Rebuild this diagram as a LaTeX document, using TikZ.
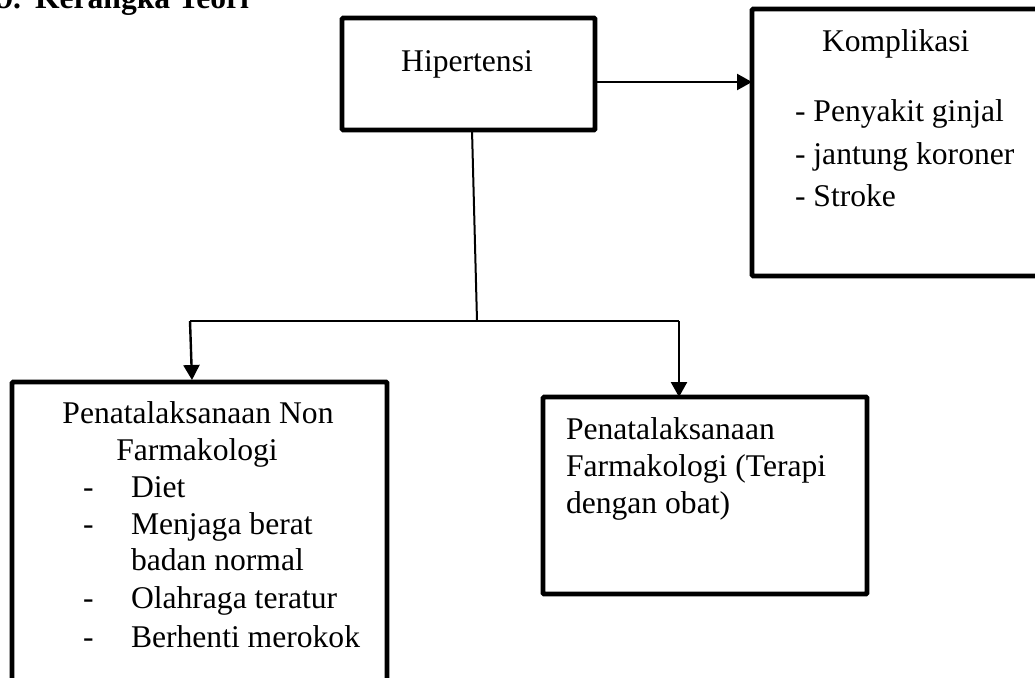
\documentclass[tikz,border=0pt]{standalone}
\usepackage{fontspec}
\setmainfont{Liberation Serif}
\usetikzlibrary{arrows.meta}
\begin{document}
\begin{tikzpicture}[x=1pt,y=-1pt,
  every node/.style={inner sep=0pt,outer sep=0pt,font=\fontsize{31.6}{37}\selectfont},
  box/.style={draw,line width=4.6pt,rounded corners=1pt},
  txt/.style={anchor=base west},
  ctxt/.style={anchor=base},
  conn/.style={line width=2pt},
  arr/.style={line width=2.4pt,-{Triangle[length=15pt,width=16pt]}},
  titletxt/.style={font=\fontsize{31.6}{37}\selectfont\bfseries}]
\useasboundingbox (0,0) rectangle (1035,677);
% title
\node[titletxt,anchor=base east] (tnum) at (21,9) {9.};
\node[titletxt,anchor=base west] (ttl) at (35,9) {Kerangka Teori};
% boxes
\node[box,minimum width=253pt,minimum height=112pt] (hip) at (468.5,74) {};
\node[box,minimum width=293pt,minimum height=267pt] (komp) at (898.5,142.5) {};
\node[box,minimum width=375pt,minimum height=308pt] (nonf) at (199.5,536) {};
\node[box,minimum width=324pt,minimum height=197pt] (farm) at (705,495.5) {};
% texts
\node[ctxt] (thip) at (467,71) {Hipertensi};
\node[txt] (tkomp) at (822,52) {Komplikasi};
\node[txt] (tk1) at (795,121) {- Penyakit ginjal};
\node[txt] (tk2) at (795,164) {- jantung koroner};
\node[txt] (tk3) at (795,206) {- Stroke};
\node[ctxt] (tn1) at (198,423) {Penatalaksanaan Non};
\node[ctxt] (tn2) at (197,460) {Farmakologi};
\node[txt] (d1) at (83,497) {-};
\node[txt] (d2) at (83,534) {-};
\node[txt] (d3) at (83,608) {-};
\node[txt] (d4) at (83,647) {-};
\node[txt] (i1) at (131,497) {Diet};
\node[txt] (i2) at (131,534) {Menjaga berat};
\node[txt] (i2b) at (131,570) {badan normal};
\node[txt] (i3) at (131,608) {Olahraga teratur};
\node[txt] (i4) at (131,647) {Berhenti merokok};
\node[txt] (tf1) at (566,439) {Penatalaksanaan};
\node[txt] (tf2) at (566,476) {Farmakologi (Terapi};
\node[txt] (tf3) at (566,513) {dengan obat)};
% connectors
\coordinate (hs) at (472,130);
\coordinate (j) at (477,321);
\coordinate (jl) at (190,321);
\coordinate (jr) at (679,321);
\coordinate (nl) at (192,380);
\draw[arr] (hip.east |- 0,82) -- (komp.west |- 0,82);
\draw[conn] (hs) -- (j);
\draw[conn] (jl) -- (jr);
\draw[arr] (jl) -- (nl);
\draw[arr] (jr) -- (jr |- farm.north);
\end{tikzpicture}
\end{document}
